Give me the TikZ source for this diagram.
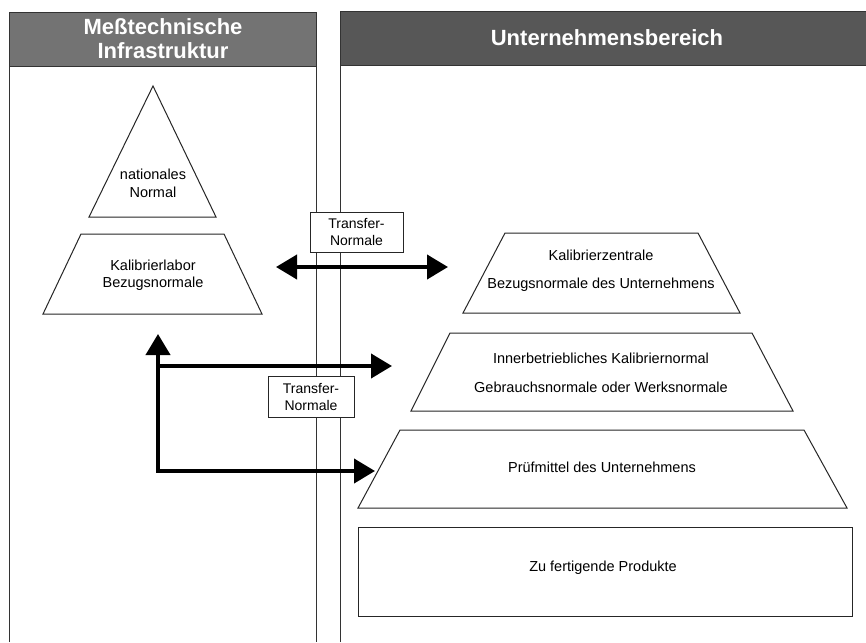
\documentclass[tikz,border=0pt]{standalone}
\usepackage{fontspec}
\setmainfont{Liberation Sans}
\usetikzlibrary{arrows.meta}
\begin{document}
\begin{tikzpicture}[x=1pt,y=-1pt,
  panel/.style={draw=black!80,line width=0.9pt},
  hdrfill/.style={fill=black!55},
  htext/.style={text=white,font=\bfseries\fontsize{22}{24}\selectfont,align=center,inner sep=0pt},
  shp/.style={draw=black!85,line width=1pt},
  btext/.style={font=\fontsize{14.5}{18}\selectfont,align=center,inner sep=0pt},
  tbox/.style={draw=black!85,line width=0.9pt,fill=white,font=\fontsize{14}{17}\selectfont,align=center,minimum height=40pt,inner sep=0pt},
  tip/.style={Triangle[length=21pt,width=24pt]},
  arr/.style={line width=4pt,-{Triangle[length=21pt,width=24pt]}},
  darr/.style={line width=4pt,{Triangle[length=21pt,width=24pt]}-{Triangle[length=21pt,width=24pt]}}
]
\useasboundingbox (0,0) rectangle (866,642);
\fill[white] (0,0) rectangle (866,642);
% headers
\fill[hdrfill] (9,12) rectangle (316,66);
\fill[black!66] (340,11) rectangle (866,65);
% panels
\draw[panel] (9,642) -- (9,12) -- (316,12) -- (316,642);
\draw[panel] (9,66) -- (316,66);
\draw[panel] (340,642) -- (340,11) -- (866,11);
\draw[panel] (340,65) -- (866,65);
\node[htext] (h1) at (163,39) {Meßtechnische\\Infrastruktur};
\node[htext] (h2) at (607,38) {Unternehmensbereich};
% left pyramid
\draw[shp] (153,86) -- (216,217) -- (89,217) -- cycle;
\node[btext] (nat) at (153,183) {nationales\\Normal};
\draw[shp] (81,234) -- (224,234) -- (262,314) -- (43,314) -- cycle;
\node[btext,font=\fontsize{14.5}{17}\selectfont] (kl) at (153,275) {Kalibrierlabor\\Bezugsnormale};
% right pyramid
\draw[shp] (505,233) -- (698,233) -- (740,313) -- (463,313) -- cycle;
\node[btext,font=\fontsize{14.5}{28}\selectfont] (kz) at (601,271) {Kalibrierzentrale\\Bezugsnormale des Unternehmens};
\draw[shp] (450,333) -- (752,333) -- (793,411) -- (411,411) -- cycle;
\node[btext,font=\fontsize{14.5}{29}\selectfont] (ib) at (601,372.5) {Innerbetriebliches Kalibriernormal\\Gebrauchsnormale oder Werksnormale};
\draw[shp] (400,430) -- (804,430) -- (847,508) -- (358,508) -- cycle;
\node[btext] (pm) at (602,467) {Prüfmittel des Unternehmens};
\draw[shp] (358,527) rectangle (852,616);
\node[btext] (zf) at (603,568) {Zu fertigende Produkte};
% transfer boxes
\node[tbox,minimum width=93pt] (t1) at (356.5,232) {Transfer-\\Normale};
\node[tbox,minimum width=86pt,minimum height=41pt] (t2) at (311,396.5) {Transfer-\\Normale};
% arrows
\coordinate (da1) at (276,267);
\coordinate (da2) at (448,267);
\draw[darr] (da1) -- (da2);
\coordinate (vtip) at (158,334);
\coordinate (corner) at (158,471);
\coordinate (ltip) at (375,471);
\coordinate (branch) at (157,366);
\coordinate (mtip) at (392,366);
\draw[darr] (vtip) -- (corner) -- (ltip);
\draw[arr] (branch) -- (mtip);
\end{tikzpicture}
\end{document}
